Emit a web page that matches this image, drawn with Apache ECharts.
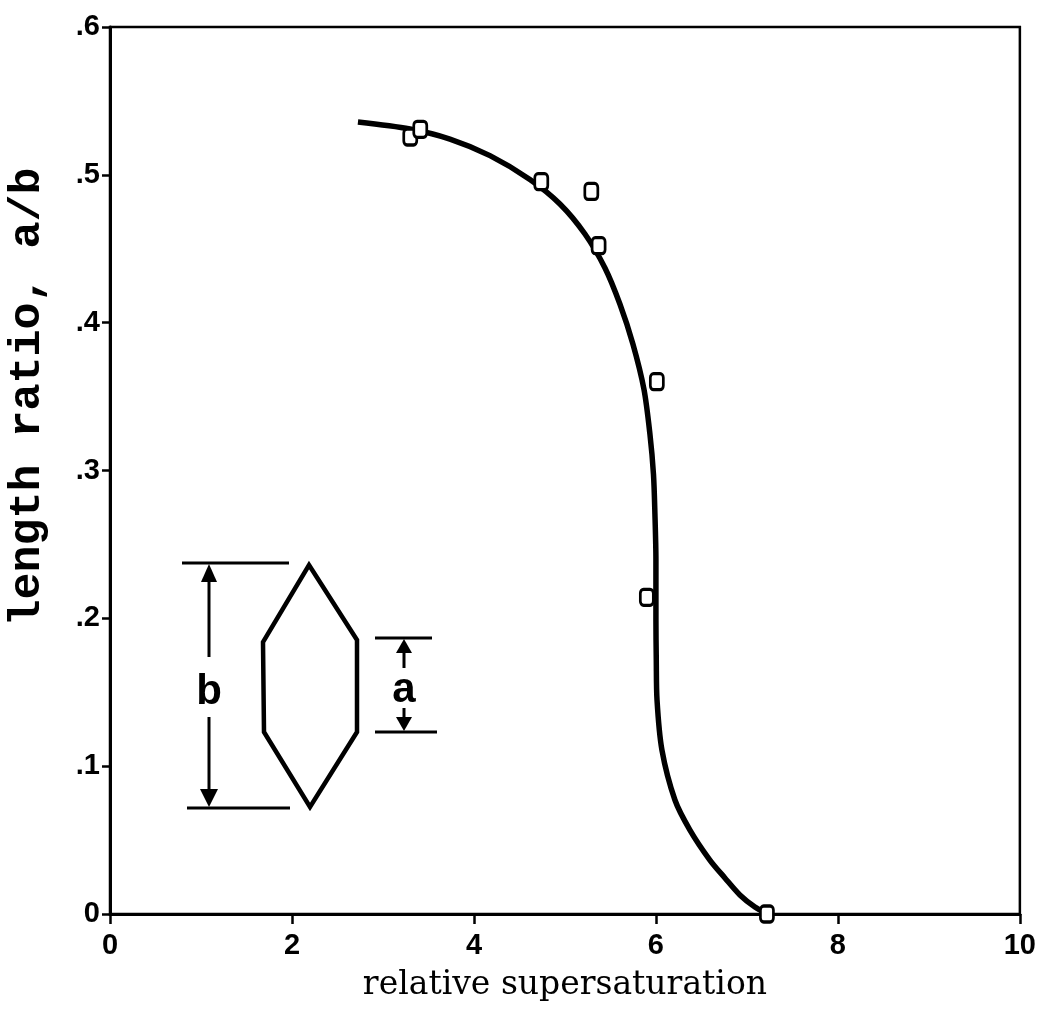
<!DOCTYPE html>
<html>
<head>
<meta charset="utf-8">
<script src="https://cdn.jsdelivr.net/npm/echarts@6/dist/echarts.min.js"></script>
<style>
html,body{margin:0;padding:0;background:#fff;}
#chart{width:1039px;height:1010px;}
</style>
</head>
<body>
<div id="chart"></div>
<script>
// Measured data points (relative supersaturation, length ratio a/b)
const pointsX = [3.30, 3.41, 4.74, 5.29, 5.37, 6.01, 5.90, 7.22];
const pointsY = [0.5256, 0.5308, 0.4954, 0.4888, 0.4521, 0.3601, 0.2142, 0.0];

// Fitted curve
const curveX = [2.725, 3.297, 3.736, 4.176, 4.615, 4.945, 5.220, 5.440, 5.604, 5.747, 5.868, 5.934, 5.973, 5.989, 6.000, 6.000, 6.004, 6.012, 6.066, 6.209, 6.374, 6.593, 6.758, 6.923, 7.088, 7.209];
const curveY = [0.5357, 0.5310, 0.5242, 0.5130, 0.4969, 0.4803, 0.4600, 0.4370, 0.4126, 0.3856, 0.3551, 0.3247, 0.2976, 0.2706, 0.2395, 0.1989, 0.1718, 0.1448, 0.1109, 0.0771, 0.0568, 0.0365, 0.0244, 0.0129, 0.0047, 0.0007];

const xTickLabels = ['0', '2', '4', '6', '8', '10'];
const yTickLabels = ['0', '.1', '.2', '.3', '.4', '.5', '.6'];

const xTitle = 'relative supersaturation';
const yTitle = 'length ratio, a/b';

const chart = echarts.init(document.getElementById('chart'), null, {renderer: 'canvas'});

const tickFont = {color: '#000', fontFamily: 'Liberation Sans', fontWeight: 'bold', fontSize: 29};

const option = {
  animation: false,
  backgroundColor: '#fff',
  grid: {left: 110, right: 19, top: 27, bottom: 96, show: true, borderColor: '#000', borderWidth: 2.5, backgroundColor: 'transparent'},
  xAxis: {
    type: 'value', min: 0, max: 10, interval: 2,
    name: xTitle, nameLocation: 'middle', nameGap: 55,
    nameTextStyle: {color: '#000', fontFamily: 'DejaVu Serif', fontSize: 33},
    axisLine: {show: true, lineStyle: {color: '#000', width: 3}},
    axisTick: {show: true, inside: false, length: 10, lineStyle: {color: '#000', width: 2.5}},
    axisLabel: Object.assign({margin: 17, formatter: v => xTickLabels[Math.round(v / 2)]}, tickFont),
    splitLine: {show: false}
  },
  yAxis: {
    type: 'value', min: 0, max: 0.6, interval: 0.1,
    axisLine: {show: true, lineStyle: {color: '#000', width: 3}},
    axisTick: {show: true, inside: false, length: 8, lineStyle: {color: '#000', width: 2.5}},
    axisLabel: Object.assign({margin: 10, formatter: v => yTickLabels[Math.round(v * 10)]}, tickFont),
    splitLine: {show: false}
  },
  series: [
    {
      type: 'line',
      data: curveX.map((x, i) => [x, curveY[i]]),
      showSymbol: false,
      smooth: 0.3,
      lineStyle: {color: '#000', width: 5.5},
      z: 2
    },
    {
      type: 'scatter',
      data: pointsX.map((x, i) => [x, pointsY[i]]),
      symbol: 'roundRect',
      symbolSize: [13, 16],
      itemStyle: {color: '#fff', borderColor: '#000', borderWidth: 3, opacity: 1},
      z: 3
    }
  ],
  graphic: [
    {type: 'text', x: 28, y: 397, rotation: Math.PI / 2,
     style: {text: yTitle, fill: '#000', font: 'bold 45px "Liberation Mono"', textAlign: 'center', textVerticalAlign: 'middle'}},
    // inset crystal sketch
    {type: 'polygon', shape: {points: [[309,565],[357,640],[357,732],[310,807],[264,732],[263,642]]},
     style: {fill: 'none', stroke: '#000', lineWidth: 4.5, lineJoin: 'miter'}},
    {type: 'line', shape: {x1: 182, y1: 563, x2: 289, y2: 563}, style: {stroke: '#000', lineWidth: 3}},
    {type: 'line', shape: {x1: 187, y1: 808, x2: 290, y2: 808}, style: {stroke: '#000', lineWidth: 3}},
    {type: 'line', shape: {x1: 209, y1: 578, x2: 209, y2: 657}, style: {stroke: '#000', lineWidth: 3}},
    {type: 'line', shape: {x1: 209, y1: 717, x2: 209, y2: 792}, style: {stroke: '#000', lineWidth: 3}},
    {type: 'polygon', shape: {points: [[209,564],[201,582],[217,582]]}, style: {fill: '#000'}},
    {type: 'polygon', shape: {points: [[209,807],[200,789],[218,789]]}, style: {fill: '#000'}},
    {type: 'text', x: 209, y: 692, style: {text: 'b', fill: '#000', font: 'bold 42px "Liberation Sans"', textAlign: 'center', textVerticalAlign: 'middle'}},
    {type: 'line', shape: {x1: 375, y1: 638, x2: 432, y2: 638}, style: {stroke: '#000', lineWidth: 3}},
    {type: 'line', shape: {x1: 375, y1: 732, x2: 437, y2: 732}, style: {stroke: '#000', lineWidth: 3}},
    {type: 'line', shape: {x1: 404, y1: 650, x2: 404, y2: 668}, style: {stroke: '#000', lineWidth: 3}},
    {type: 'line', shape: {x1: 404, y1: 708, x2: 404, y2: 720}, style: {stroke: '#000', lineWidth: 3}},
    {type: 'polygon', shape: {points: [[404,639],[396,653],[412,653]]}, style: {fill: '#000'}},
    {type: 'polygon', shape: {points: [[404,731],[396,717],[412,717]]}, style: {fill: '#000'}},
    {type: 'text', x: 404, y: 690, style: {text: 'a', fill: '#000', font: 'bold 42px "Liberation Sans"', textAlign: 'center', textVerticalAlign: 'middle'}}
  ]
};
chart.setOption(option);
</script>
</body>
</html>
